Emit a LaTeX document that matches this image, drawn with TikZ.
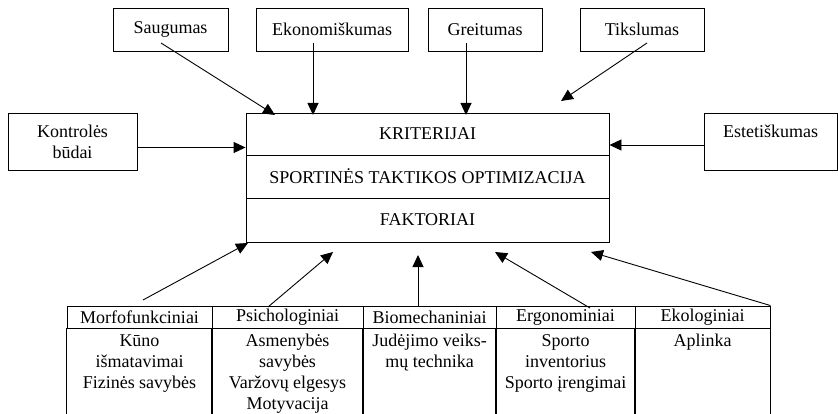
\documentclass[tikz,border=0pt]{standalone}
\usepackage{fontspec}
\setmainfont{Liberation Serif}
\usetikzlibrary{arrows.meta,positioning}
\tikzset{box/.style={draw,inner sep=0pt,minimum height=43pt},pil/.style={-{Triangle[length=12pt,width=11pt]}}}

\begin{document}
\begin{tikzpicture}[x=1pt,y=-1pt,line width=0.9pt,every node/.style={font=\fontsize{18}{21}\selectfont}]
\useasboundingbox(0,0)rectangle(838,414);
\node[box,minimum width=115pt](saug)at(170.5,29.5){Saugumas};
\node[box,minimum width=152pt](ekon)at(332,29.5){Ekonomiškumas};
\node[box,minimum width=114pt](greit)at(485,29.5){Greitumas};
\node[box,minimum width=124pt](tiks)at(642,29.5){Tikslumas};
\node[box,minimum width=129pt,minimum height=57pt,align=center](kontr)at(72.5,141.5){Kontrolės\\būdai};
\node[box,minimum width=133pt,minimum height=57pt,align=center](estet)at(770.5,141.5){Estetiškumas\\\mbox{}};
\node[box,minimum width=363pt,minimum height=42pt](krit)at(427.5,134){KRITERIJAI};
\node[box,minimum width=363pt,minimum height=43pt](optim)at(427.5,176.5){SPORTINĖS TAKTIKOS OPTIMIZACIJA};
\node[box,minimum width=363pt,minimum height=44pt](fakt)at(427.5,220){FAKTORIAI};
\node[box,minimum height=22pt,minimum width=145pt](morf)at(139.5,317){Morfofunkciniai};
\node[box,minimum height=22pt,minimum width=151pt](psich)at(287.5,317){Psichologiniai};
\node[box,minimum height=22pt,minimum width=133pt](biom)at(429.5,317){Biomechaniniai};
\node[box,minimum height=22pt,minimum width=139pt](ergo)at(565.5,317){Ergonominiai};
\node[box,minimum height=22pt,minimum width=135pt](ekol)at(702.5,317){Ekologiniai};
\foreach \c in {morf,psich,biom,ergo,ekol}{\draw(\c.south west)--(\c.south west|-0,414);
\draw(\c.south east)--(\c.south east|-0,414);}
\node[below=2pt of morf,align=center](morfb){Kūno\\išmatavimai\\Fizinės savybės};
\node[below=2pt of psich,align=center](psichb){Asmenybės\\savybės\\Varžovų elgesys\\Motyvacija};
\node[below=2pt of biom,align=center](biomb){Judėjimo veiks-\\mų technika};
\node[below=2pt of ergo,align=center](ergob){Sporto\\inventorius\\Sporto įrengimai};
\node[below=2pt of ekol,align=center](ekolb){Aplinka};
\coordinate(saugA)at(161,43);\coordinate(saugB)at(275,115);
\coordinate(ekonA)at(313,43);\coordinate(ekonB)at(313,115);
\coordinate(greitA)at(466,43);\coordinate(greitB)at(466,115);
\coordinate(tiksA)at(647,43);\coordinate(tiksB)at(561,101);
\coordinate(morfA)at(143,300);\coordinate(morfB)at(248,243);
\coordinate(psichA)at(268,307);\coordinate(psichB)at(333,252);
\coordinate(biomA)at(418,307);\coordinate(biomB)at(418,255);
\coordinate(ergoA)at(590,308);\coordinate(ergoB)at(495,252);
\coordinate(ekolB)at(591,252);
\draw[pil](saugA)--(saugB);\draw[pil](ekonA)--(ekonB);\draw[pil](greitA)--(greitB);\draw[pil](tiksA)--(tiksB);
\draw[pil]([yshift=-6pt]kontr.east)--([yshift=-6pt]kontr.east-|krit.west);
\draw[pil]([yshift=-3.5pt]estet.west)--([yshift=-3.5pt]estet.west-|krit.east);
\draw[pil](morfA)--(morfB);\draw[pil](psichA)--(psichB);\draw[pil](biomA)--(biomB);\draw[pil](ergoA)--(ergoB);
\draw[pil](ekol.north east)--(ekolB);
\end{tikzpicture}
\end{document}
